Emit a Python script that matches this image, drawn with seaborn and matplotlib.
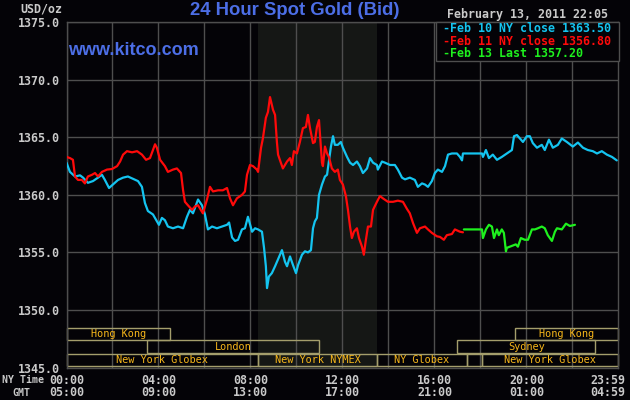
import numpy as np
import pandas as pd
import matplotlib
matplotlib.use("Agg")
import matplotlib.pyplot as plt
import matplotlib.transforms as mtransforms
from matplotlib.patches import Rectangle
import seaborn as sns

# ---------------- data (hours in NY time, price in USD/oz) ----------------
feb10_hours = [0.0, 0.15, 0.37, 0.59, 0.72, 0.93, 1.15, 1.37, 1.54, 1.67, 1.85, 2.02, 2.24, 2.46,
               2.67, 2.89, 3.11, 3.28, 3.41, 3.54, 3.76, 4.02, 4.15, 4.28, 4.41, 4.63, 4.85, 5.07,
               5.24, 5.37, 5.50, 5.72, 5.89, 6.02, 6.15, 6.33, 6.54, 6.76, 6.98, 7.07, 7.20, 7.33,
               7.46, 7.63, 7.76, 7.89, 8.07, 8.20, 8.33, 8.50, 8.59, 8.67, 8.72, 8.80, 8.93, 9.07,
               9.20, 9.37, 9.50, 9.59, 9.72, 9.85, 9.98, 10.07, 10.24, 10.37, 10.50, 10.63, 10.72,
               10.80, 10.89, 10.98, 11.11, 11.24, 11.33, 11.41, 11.50, 11.59, 11.67, 11.80, 11.93,
               12.02, 12.20, 12.33, 12.46, 12.63, 12.76, 12.89, 13.07, 13.20, 13.33, 13.50, 13.54,
               13.72, 13.85, 14.07, 14.28, 14.41, 14.59, 14.72, 14.93, 15.15, 15.28, 15.46, 15.59,
               15.72, 15.89, 16.02, 16.15, 16.33, 16.46, 16.59, 16.76, 16.98, 17.11, 17.20, 17.24,
               18.07, 18.11, 18.24, 18.37, 18.54, 18.72, 18.93, 19.15, 19.37, 19.46, 19.59, 19.72,
               19.85, 20.02, 20.15, 20.28, 20.46, 20.67, 20.80, 20.98, 21.15, 21.37, 21.54, 21.76,
               22.02, 22.24, 22.46, 22.67, 22.89, 23.07, 23.28, 23.50, 23.72, 23.93]
feb10_price = [1362.8, 1362.0, 1361.6, 1361.7, 1361.5, 1361.05, 1361.2, 1361.5, 1361.75, 1361.3,
               1360.6, 1360.9, 1361.3, 1361.5, 1361.6, 1361.4, 1361.2, 1360.7, 1359.3, 1358.6,
               1358.3, 1357.4, 1358.0, 1357.8, 1357.25, 1357.1, 1357.25, 1357.1, 1358.1, 1358.7,
               1358.4, 1359.6, 1359.1, 1358.3, 1357.0, 1357.25, 1357.1, 1357.25, 1357.4, 1357.6,
               1356.3, 1356.0, 1356.1, 1357.0, 1357.1, 1358.1, 1356.8, 1357.1, 1357.0, 1356.8,
               1355.4, 1353.8, 1351.9, 1352.9, 1353.2, 1353.8, 1354.4, 1355.2, 1354.2, 1353.8,
               1354.65, 1353.9, 1353.2, 1353.9, 1354.8, 1355.1, 1355.0, 1355.2, 1357.1, 1357.7,
               1358.0, 1360.0, 1360.9, 1361.6, 1361.75, 1362.9, 1364.2, 1365.1, 1364.35, 1364.35,
               1364.6, 1364.1, 1363.3, 1362.8, 1362.6, 1362.9, 1362.5, 1361.9, 1362.3, 1363.2,
               1362.8, 1362.6, 1362.2, 1362.9, 1362.8, 1362.6, 1362.6, 1362.2, 1361.5, 1361.35,
               1361.5, 1361.3, 1360.7, 1361.0, 1360.9, 1360.7, 1361.2, 1361.9, 1362.2, 1362.0,
               1362.5, 1363.5, 1363.6, 1363.6, 1363.3, 1363.0, 1363.6, 1363.6, 1363.3, 1363.9,
               1363.2, 1363.5, 1363.05, 1363.3, 1363.6, 1363.9, 1365.1, 1365.2, 1364.9, 1364.6,
               1365.1, 1365.1, 1364.5, 1364.1, 1364.35, 1363.9, 1364.8, 1364.1, 1364.35, 1364.9,
               1364.6, 1364.2, 1364.55, 1364.1, 1363.9, 1363.8, 1363.6, 1363.8, 1363.5, 1363.3,
               1363.0]

feb11_hours = [0.0, 0.15, 0.28, 0.37, 0.50, 0.67, 0.80, 0.93, 1.11, 1.24, 1.37, 1.54, 1.76, 1.98,
               2.20, 2.33, 2.46, 2.63, 2.85, 3.07, 3.28, 3.46, 3.63, 3.76, 3.85, 3.93, 4.07, 4.28,
               4.41, 4.63, 4.80, 4.98, 5.07, 5.15, 5.28, 5.46, 5.59, 5.72, 5.93, 6.11, 6.24, 6.37,
               6.59, 6.80, 6.98, 7.11, 7.24, 7.41, 7.63, 7.76, 7.85, 7.98, 8.11, 8.28, 8.33, 8.46,
               8.54, 8.67, 8.76, 8.85, 8.98, 9.07, 9.15, 9.20, 9.33, 9.41, 9.59, 9.72, 9.80, 9.89,
               10.02, 10.15, 10.28, 10.41, 10.50, 10.59, 10.72, 10.80, 10.89, 10.98, 11.11, 11.15,
               11.24, 11.33, 11.41, 11.54, 11.67, 11.80, 11.89, 12.02, 12.15, 12.24, 12.33, 12.41,
               12.50, 12.63, 12.72, 12.85, 12.93, 13.02, 13.11, 13.24, 13.33, 13.50, 13.63, 13.76,
               13.98, 14.20, 14.41, 14.63, 14.80, 14.93, 15.07, 15.24, 15.37, 15.59, 15.72, 15.89,
               16.11, 16.24, 16.41, 16.54, 16.76, 16.89, 17.11, 17.24]
feb11_price = [1363.3, 1363.2, 1363.05, 1361.6, 1361.3, 1361.3, 1361.0, 1361.6, 1361.75, 1361.9,
               1361.6, 1362.0, 1362.2, 1362.25, 1362.5, 1362.9, 1363.5, 1363.8, 1363.7, 1363.8,
               1363.5, 1363.05, 1363.2, 1363.9, 1364.4, 1364.1, 1363.05, 1362.5, 1362.0, 1362.2,
               1362.3, 1361.9, 1360.4, 1359.4, 1359.1, 1358.7, 1359.0, 1359.1, 1358.4, 1359.6,
               1360.7, 1360.3, 1360.4, 1360.4, 1360.6, 1359.7, 1359.1, 1359.7, 1360.0, 1360.3,
               1361.75, 1362.6, 1362.5, 1362.2, 1362.0, 1364.1, 1364.9, 1366.7, 1367.2, 1368.5,
               1367.4, 1366.95, 1364.6, 1363.5, 1362.75, 1362.3, 1362.9, 1363.2, 1362.6, 1363.8,
               1363.6, 1364.6, 1365.8, 1365.9, 1366.95, 1365.8, 1364.5, 1364.6, 1365.9, 1366.5,
               1362.8, 1362.5, 1364.2, 1363.6, 1363.3, 1362.3, 1362.0, 1362.2, 1361.3, 1360.9,
               1359.9, 1358.7, 1357.25, 1356.25, 1356.8, 1357.1, 1356.25, 1355.5, 1354.8, 1356.1,
               1357.25, 1357.25, 1358.7, 1359.4, 1359.9, 1359.7, 1359.4, 1359.4, 1359.5, 1359.4,
               1358.8, 1358.4, 1357.55, 1356.7, 1357.1, 1357.25, 1357.0, 1356.7, 1356.4, 1356.35,
               1356.1, 1356.5, 1356.6, 1357.0, 1356.8, 1356.75]

feb13_hours = [17.28, 18.07, 18.11, 18.24, 18.37, 18.50, 18.59, 18.72, 18.80, 18.93, 19.02, 19.11,
               19.15, 19.28, 19.41, 19.54, 19.63, 19.76, 19.93, 20.07, 20.24, 20.37, 20.50, 20.67,
               20.80, 20.93, 21.11, 21.24, 21.33, 21.54, 21.72, 21.89, 22.11]
feb13_price = [1357.0, 1357.0, 1356.25, 1357.0, 1357.4, 1357.25, 1356.25, 1357.0, 1356.5, 1357.0,
               1356.7, 1355.1, 1355.4, 1355.5, 1355.6, 1355.7, 1355.5, 1356.25, 1356.1, 1356.1,
               1357.0, 1357.0, 1357.1, 1357.25, 1357.1, 1356.5, 1356.0, 1356.8, 1357.1, 1357.0,
               1357.5, 1357.3, 1357.4]

series_names = ["Feb 10 NY close", "Feb 11 NY close", "Feb 13 Last"]
series_values = ["1363.50", "1356.80", "1357.20"]
series_colors = ["#14c4f0", "#ff0a0a", "#1ef01e"]

y_ticks = [1345, 1350, 1355, 1360, 1365, 1370, 1375]
x_label_hours = [0, 4, 8, 12, 16, 20, 23 + 59 / 60]
ny_time_labels = ["00:00", "04:00", "08:00", "12:00", "16:00", "20:00", "23:59"]
gmt_labels = ["05:00", "09:00", "13:00", "17:00", "21:00", "01:00", "04:59"]

session_names = ["Hong Kong", "Hong Kong", "London", "Sydney",
                 "New York Globex", "New York NYMEX", "NY Globex", "", "New York Globex"]
session_start = [0.0, 19.5, 3.5, 17.0, 0.0, 8.333, 13.5, 17.4, 18.05]
session_end = [4.5, 23 + 59 / 60, 11.0, 23.0, 8.333, 13.5, 17.4, 18.05, 23 + 59 / 60]
session_row = [0, 0, 1, 1, 2, 2, 2, 2, 2]
nymex_open, nymex_close = 8.333, 13.5

title = "24 Hour Spot Gold (Bid)"
stamp = "February 13, 2011 22:05"

# ---------------- styling ----------------
BG = "#040307"
GRID = "#4e4e4e"
TXT = "#cacaca"
BLUE = "#4c6ee6"
SESS_EDGE = "#a49e6c"
SESS_TXT = "#f6b61a"
MONO = "DejaVu Sans Mono"

sns.set_theme(style="dark", rc={"axes.facecolor": BG, "figure.facecolor": BG})

W, H = 630, 400
fig = plt.figure(figsize=(W / 100, H / 100), dpi=100, facecolor=BG)
left, right, top, bottom = 66.5, 618.0, 22.3, 367.5
ax = fig.add_axes([left / W, 1 - bottom / H, (right - left) / W, (bottom - top) / H])
ax.set_facecolor(BG)

df = pd.concat([
    pd.DataFrame({"hour": h, "price": p, "series": n})
    for h, p, n in zip([feb10_hours, feb11_hours, feb13_hours],
                       [feb10_price, feb11_price, feb13_price], series_names)
], ignore_index=True)

ax.axvspan(nymex_open, nymex_close, color="#151715", zorder=0.5, lw=0)

sns.lineplot(data=df, x="hour", y="price", hue="series", hue_order=series_names,
             palette=dict(zip(series_names, series_colors)), estimator=None, sort=False,
             legend=False, lw=1.6, ax=ax, zorder=3)

ax.set_xlim(0, 23 + 59 / 60)
ax.set_ylim(min(y_ticks), max(y_ticks))
ax.set_xlabel("")
ax.set_ylabel("")

# grid
ax.set_xticks(np.arange(0, 24, 2))
ax.set_xticklabels([])
ax.set_yticks(y_ticks)
ax.set_yticklabels([f"{v:.1f}" for v in y_ticks])
ax.grid(True, color=GRID, lw=1.0, zorder=1)
ax.set_axisbelow(True)
ax.tick_params(length=0, pad=4.5, labelsize=8.4, colors=TXT)
for lab in ax.get_yticklabels():
    lab.set_fontfamily(MONO)
    lab.set_fontweight("bold")
for sp in ax.spines.values():
    sp.set_color(GRID)
    sp.set_linewidth(1.0)
    sp.set_visible(True)

# session boxes
row_tops = [0.1156, 0.0786, 0.0405]
row_h = 0.0373
blend = mtransforms.blended_transform_factory(ax.transData, ax.transAxes)
for name, s, e, r in zip(session_names, session_start, session_end, session_row):
    y0 = row_tops[r] - row_h
    ax.add_patch(Rectangle((s, y0), e - s, row_h, transform=blend, fill=False,
                           edgecolor=SESS_EDGE, lw=1.0, zorder=2, clip_on=False))
    if name:
        ax.text((s + e) / 2, y0 + row_h / 2, name, transform=blend, ha="center", va="center",
                color=SESS_TXT, fontsize=7.4, family=MONO, zorder=4)

# bottom time labels (two rows)
for hx, ny, gmt in zip(x_label_hours, ny_time_labels, gmt_labels):
    dx = -10 if hx > 23 else 0
    for lab, dy in ((ny, -12.5), (gmt, -25.5)):
        tr = mtransforms.offset_copy(blend, fig=fig, x=dx, y=dy, units="dots")
        ax.text(hx, 0, lab, transform=tr, ha="center", va="center", color=TXT,
                fontsize=8.4, family=MONO, fontweight="bold", clip_on=False)

fig.text(23.5 / W, 1 - 380 / H, "NY Time", ha="center", va="center", color=TXT,
         fontsize=7.1, family=MONO, fontweight="bold")
fig.text(21.5 / W, 1 - 393 / H, "GMT", ha="center", va="center", color=TXT,
         fontsize=7.1, family=MONO, fontweight="bold")
fig.text(62 / W, 1 - 8.5 / H, "USD/oz", ha="right", va="center", color=TXT,
         fontsize=8.4, family=MONO, fontweight="bold")

# titles
fig.text(294.5 / W, 1 - 10.5 / H, title, ha="center", va="center", color=BLUE,
         fontsize=13.3, family="Liberation Sans", fontweight="bold")
fig.text(68 / W, 1 - 55 / H, "www.kitco.com", ha="left", va="baseline", color=BLUE,
         fontsize=13.0, family="Liberation Sans", fontweight="bold")
fig.text(608 / W, 1 - 14.5 / H, stamp, ha="right", va="center", color=TXT,
         fontsize=8.4, family=MONO, fontweight="bold")

# legend box
lx0, lx1, ly0, ly1 = 436, 619, 22.3, 60.7
fig.add_artist(Rectangle((lx0 / W, 1 - ly1 / H), (lx1 - lx0) / W, (ly1 - ly0) / H,
                         transform=fig.transFigure, facecolor=BG, edgecolor=GRID,
                         lw=1.0, zorder=10))
for i, (n, v, c) in enumerate(zip(series_names, series_values, series_colors)):
    fig.text(443 / W, 1 - (29 + 12.3 * i) / H, f"-{n} {v}", ha="left", va="center",
             color=c, fontsize=8.4, family=MONO, fontweight="bold", zorder=11)

fig.savefig("out.png", dpi=100, facecolor=BG)
